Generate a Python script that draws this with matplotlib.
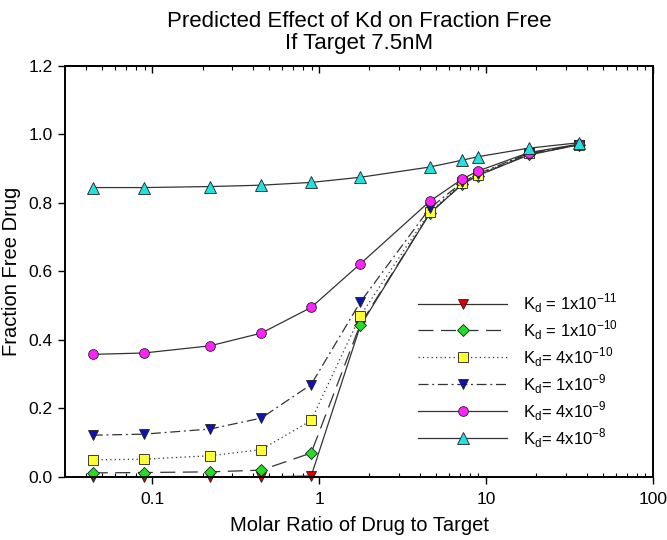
import numpy as np
import matplotlib
matplotlib.use("Agg")
import matplotlib.pyplot as plt
from matplotlib.ticker import LogLocator, FixedLocator, NullFormatter, FuncFormatter

plt.rcParams['font.family'] = ['Liberation Sans', 'DejaVu Sans']

# =========================
# DATA
# =========================
ratio = [0.044, 0.089, 0.222, 0.45, 0.895, 1.76, 4.6, 7.2, 8.9, 18, 36]

kd_1e11 = [0.0, 0.0, 0.0, 0.0, 0.003, 0.44, 0.77, 0.855, 0.88, 0.94, 0.97]
kd_1e10 = [0.012, 0.013, 0.015, 0.02, 0.07, 0.445, 0.77, 0.855, 0.88, 0.942, 0.97]
kd_4e10 = [0.05, 0.052, 0.062, 0.08, 0.165, 0.47, 0.775, 0.857, 0.882, 0.945, 0.97]
kd_1e9 = [0.122, 0.125, 0.14, 0.172, 0.27, 0.51, 0.785, 0.86, 0.885, 0.945, 0.97]
kd_4e9 = [0.358, 0.362, 0.383, 0.42, 0.495, 0.622, 0.805, 0.87, 0.893, 0.947, 0.972]
kd_4e8 = [0.845, 0.845, 0.848, 0.852, 0.86, 0.875, 0.905, 0.925, 0.935, 0.96, 0.976]

labels = [r"K$_\mathregular{d}$ = 1x10$^\mathregular{-11}$",
          r"K$_\mathregular{d}$ = 1x10$^\mathregular{-10}$",
          r"K$_\mathregular{d}$= 4x10$^\mathregular{-10}$",
          r"K$_\mathregular{d}$= 1x10$^\mathregular{-9}$",
          r"K$_\mathregular{d}$= 4x10$^\mathregular{-9}$",
          r"K$_\mathregular{d}$= 4x10$^\mathregular{-8}$"]

series = [kd_1e11, kd_1e10, kd_4e10, kd_1e9, kd_4e9, kd_4e8]
colors = ['#e00000', '#22dd22', '#ffff33', '#0a14b4', '#ff22ff', '#22e0e0']
markers = ['v', 'D', 's', 'v', 'o', '^']
msizes = [7.5, 6.5, 7, 7.5, 7, 8]
styles = ['-', (0, (12, 6)), (0, (1, 2.5)), (0, (8, 3, 1.5, 3)), '-', '-']

# =========================
# PLOT
# =========================
fig = plt.figure(figsize=(6.67, 5.4), dpi=100)
ax = fig.add_axes([0.0975, 0.1167, 0.8815, 0.7611])

for y, c, m, ms, ls, lab in zip(series, colors, markers, msizes, styles, labels):
    ax.plot(ratio, y, color='#333333', lw=0.9, ls=ls, marker=m,
            markersize=ms, markerfacecolor=c, markeredgecolor='#202020',
            markeredgewidth=0.6, label=lab, clip_on=False, zorder=3)

ax.set_xscale('log')
ax.set_xlim(0.03, 100)
ax.set_ylim(0, 1.2)

ax.xaxis.set_major_locator(FixedLocator([0.1, 1, 10, 100]))
ax.xaxis.set_major_formatter(FuncFormatter(lambda v, p: f"{v:g}"))
ax.xaxis.set_minor_locator(LogLocator(base=10, subs=np.arange(2, 10)))
ax.xaxis.set_minor_formatter(NullFormatter())
ax.set_yticks(np.arange(0, 1.21, 0.2))
ax.yaxis.set_major_formatter(FuncFormatter(lambda v, p: f"{v:.1f}"))

ax.tick_params(axis='x', which='major', direction='out', length=5, width=1,
               labelsize=12.5, top=False, pad=6)
ax.tick_params(axis='x', which='minor', direction='in', length=3, width=0.8, top=False)
ax.tick_params(axis='y', which='major', direction='out', length=5, width=1,
               labelsize=12.5, right=False, pad=4)

# top axis: ticks pointing inward, no labels
top = ax.secondary_xaxis('top')
top.xaxis.set_major_locator(FixedLocator([0.1, 1, 10, 100]))
top.xaxis.set_minor_locator(LogLocator(base=10, subs=np.arange(2, 10)))
top.xaxis.set_minor_formatter(NullFormatter())
top.tick_params(which='major', direction='in', length=5, width=1, labeltop=False)
top.tick_params(which='minor', direction='in', length=3, width=0.8)
top.spines['top'].set_linewidth(1.4)

for s in ax.spines.values():
    s.set_linewidth(1.4)
    s.set_zorder(5)

ax.set_xlabel("Molar Ratio of Drug to Target", fontsize=14.5, labelpad=6)
ax.set_ylabel("Fraction Free Drug", fontsize=14.5, labelpad=5)
ax.set_title("Predicted Effect of Kd on Fraction Free\nIf Target 7.5nM",
             fontsize=16, linespacing=1.1, pad=12)

ax.legend(loc='lower right', bbox_to_anchor=(0.965, 0.03), frameon=False,
          fontsize=12, handlelength=5.3, labelspacing=0.2, handletextpad=0.95)

plt.savefig("out.png", dpi=100)
plt.close()
